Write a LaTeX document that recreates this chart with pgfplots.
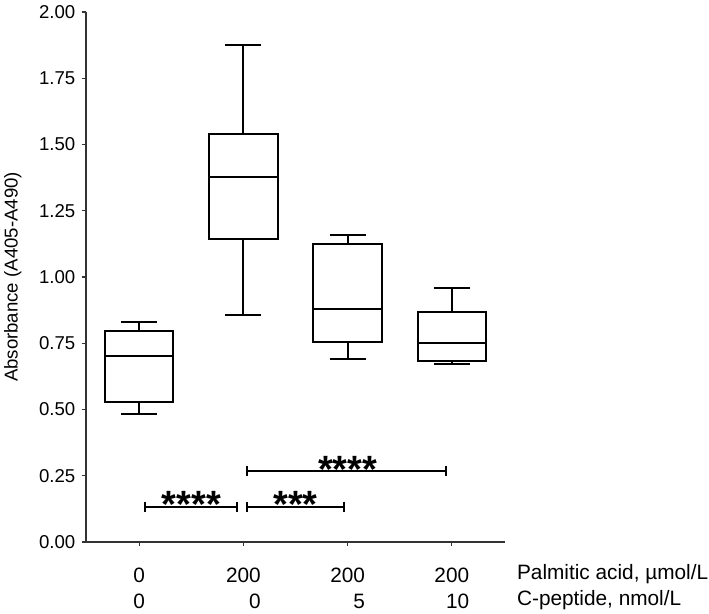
\documentclass[border=0pt]{standalone}
\usepackage{pgfplots}
\pgfplotsset{compat=1.18}
\usepgfplotslibrary{statistics}
\usepackage{fontspec}
\setmainfont{Liberation Sans}
\newcommand\rightlab{Palmitic acid, µmol/L\\C-peptide, nmol/L}
\begin{document}
\begin{tikzpicture}[font=\fontsize{9.3}{13}\selectfont]
\path[use as bounding box] (0,0) rectangle (354.5pt,307pt);
\begin{axis}[
  at={(43pt,36pt)}, anchor=south west,
  scale only axis, width=209.5pt, height=265pt,
  xmin=0.49, xmax=4.51, ymin=0, ymax=2,
  axis lines=left,
  axis line style={-, line width=0.6pt, draw=black!80},
  tick align=outside, major tick length=1.8pt,
  tick style={black!80, line width=0.6pt},
  ytick={0,0.25,0.5,0.75,1,1.25,1.5,1.75,2},
  yticklabel style={/pgf/number format/.cd, fixed, fixed zerofill, precision=2, assume math mode=true},
  xtick={1,2,3,4},
  xticklabel style={align=right, font=\fontsize{10.4}{13}\selectfont, yshift=-7.5pt},
  xticklabels={{0\\0},{200\\0},{200\\5},{200\\10}},
  extra x ticks={4.51},
  extra x tick labels={\rightlab},
  extra x tick style={major tick length=0pt, xticklabel style={anchor=north west, align=left, xshift=2.5pt}},
  ylabel={Absorbance (A405-A490)},
  ylabel shift=2pt,
  boxplot/draw direction=y,
  clip=false,
]
\addplot[black, line width=1pt, boxplot prepared={draw position=1, lower whisker=0.483, lower quartile=0.529, median=0.700, upper quartile=0.797, upper whisker=0.829, box extend=0.655, whisker extend=0.345}] coordinates {};
\addplot[black, line width=1pt, boxplot prepared={draw position=2, lower whisker=0.858, lower quartile=1.143, median=1.377, upper quartile=1.541, upper whisker=1.877, box extend=0.655, whisker extend=0.345}] coordinates {};
\addplot[black, line width=1pt, boxplot prepared={draw position=3, lower whisker=0.692, lower quartile=0.755, median=0.880, upper quartile=1.123, upper whisker=1.160, box extend=0.655, whisker extend=0.345}] coordinates {};
\addplot[black, line width=1pt, boxplot prepared={draw position=4, lower whisker=0.673, lower quartile=0.683, median=0.752, upper quartile=0.869, upper whisker=0.958, box extend=0.655, whisker extend=0.345}] coordinates {};
% significance bars
\addplot[black, line width=1pt, mark=|, mark size=2.5pt, mark options={line width=1pt}] coordinates {(1.055,0.133) (1.94,0.133)};
\addplot[black, line width=1pt, mark=|, mark size=2.5pt, mark options={line width=1pt}] coordinates {(2.03,0.133) (2.97,0.133)};
\addplot[black, line width=1pt, mark=|, mark size=2.5pt, mark options={line width=1pt}] coordinates {(2.03,0.268) (3.94,0.268)};
\node[anchor=base, inner sep=0pt, font=\bfseries\fontsize{19}{19}\selectfont] at (axis cs:1.5,0.094) {****};
\node[anchor=base, inner sep=0pt, font=\bfseries\fontsize{19}{19}\selectfont] at (axis cs:2.5,0.094) {***};
\node[anchor=base, inner sep=0pt, font=\bfseries\fontsize{19}{19}\selectfont] at (axis cs:3.0,0.225) {****};
\end{axis}
\end{tikzpicture}
\end{document}
